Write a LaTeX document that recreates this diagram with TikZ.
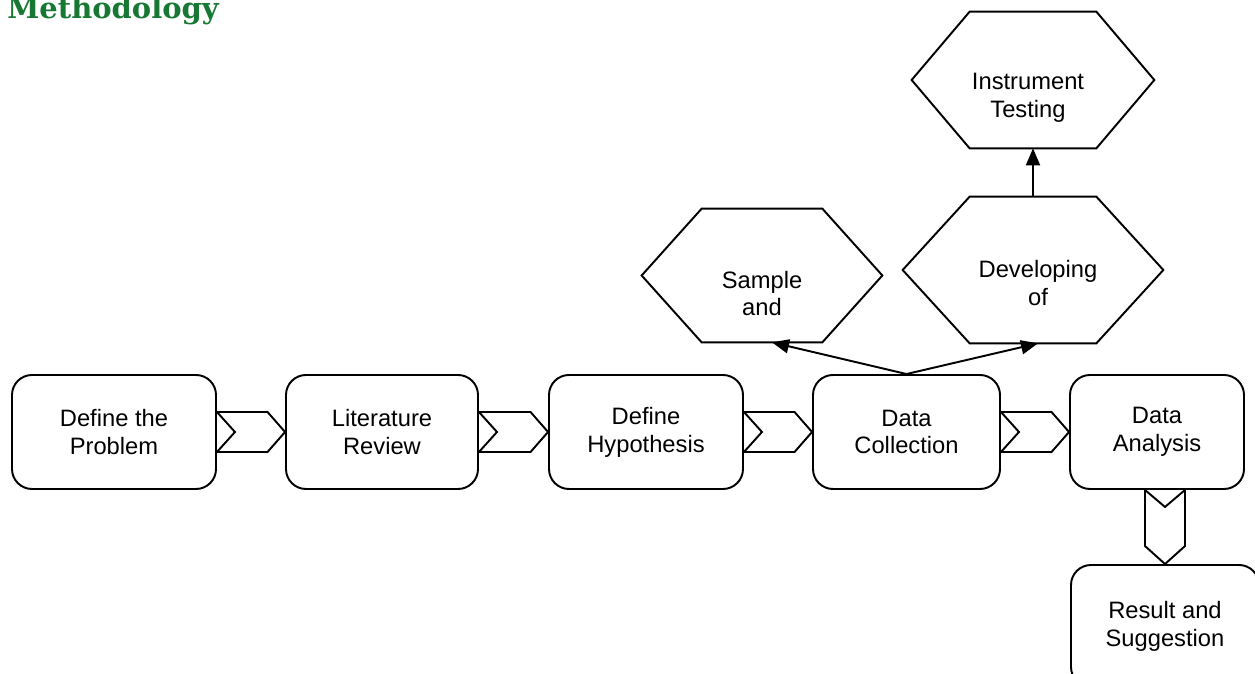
\documentclass[tikz,border=0pt]{standalone}
\usepackage{fontspec}
\setmainfont{Liberation Sans}
\newfontfamily\titlefont{DejaVu Serif}
\usetikzlibrary{arrows.meta,calc,positioning}
\definecolor{titlegreen}{RGB}{22,120,50}

\begin{document}
\begin{tikzpicture}[
    >={Triangle[length=0.34cm,width=0.28cm]},
    stage/.style={draw=black, line width=1.1pt, rounded corners=0.4cm,
      minimum height=2.28cm, align=center, font=\fontsize{13.5}{15.8}\selectfont},
    hexbox/.style={minimum width=#1, inner sep=0pt},
    hextext/.style={align=center, font=\fontsize{13.5}{15.8}\selectfont},
    hex/.style={draw=black, line width=1.1pt},
    chev/.style={draw=black, line width=1.1pt, line join=miter},
    link/.style={draw=black, line width=1.1pt, ->},
]
\useasboundingbox (0,0) rectangle (25.1,13.48);

% ---------------------------------------------------------
% Title
% ---------------------------------------------------------
\node[anchor=base west, inner sep=0pt, text=titlegreen,
  font=\titlefont\bfseries\fontsize{16.5}{20}\selectfont] (title) at (0.14,13.1)
  {Methodology};

% ---------------------------------------------------------
% Main process row
% ---------------------------------------------------------
\node[stage, minimum width=4.08cm] (define)   at (2.28,4.84)  {Define the\\Problem};
\node[stage, minimum width=3.84cm] (review)   at (7.64,4.84)  {Literature\\Review};
\node[stage, minimum width=3.88cm] (hypo)     at (12.92,4.84) {Define\\Hypothesis};
\node[stage, minimum width=3.74cm] (collect)  at (18.13,4.84) {Data\\Collection};
\node[stage, minimum width=3.48cm] (analysis) at (23.14,4.84) {Data\\Analysis};
\node[stage, minimum width=3.76cm, minimum height=2.44cm] (result) at (23.3,0.96)
  {Result and\\Suggestion};

\foreach \a/\b in {define/review, review/hypo, hypo/collect, collect/analysis}
  {\draw[chev] ($(\a.east)+(0,0.4)$) -- ($(\b.west)+(-0.35,0.4)$) -- (\b.west)
     -- ($(\b.west)+(-0.35,-0.4)$) -- ($(\a.east)+(0,-0.4)$)
     -- ($(\a.east)+(0.36,0)$) -- cycle;}

% downward chevron
\coordinate (dtop) at (result.north |- analysis.south);
\draw[chev] ($(dtop)+(-0.4,0)$) -- ($(result.north)+(-0.4,0.36)$) -- (result.north)
  -- ($(result.north)+(0.4,0.36)$) -- ($(dtop)+(0.4,0)$)
  -- ($(dtop)+(0,-0.34)$) -- cycle;

% ---------------------------------------------------------
% Data collection branches
% ---------------------------------------------------------
\node[hexbox=4.8cm, minimum height=2.66cm]  (sample)  at (15.24,7.97) {};
\node[hexbox=5.2cm, minimum height=2.92cm]  (develop) at (20.66,8.08) {};
\node[hexbox=4.84cm, minimum height=2.72cm] (instr)   at (20.66,11.88) {};

\foreach \n/\c in {sample/1.2, develop/1.34, instr/1.16}
  {\draw[hex] (\n.west) -- ($(\n.north west)+(\c,0)$) -- ($(\n.north east)+(-\c,0)$)
     -- (\n.east) -- ($(\n.south east)+(-\c,0)$) -- ($(\n.south west)+(\c,0)$) -- cycle;}

\node[hextext] (sampletxt)  at ($(sample)+(0,-0.36)$)      {Sample\\and};
\node[hextext] (developtxt) at ($(develop)+(0.1,-0.26)$)   {Developing\\of};
\node[hextext] (instrtxt)   at ($(instr)+(-0.1,-0.36)$)    {Instrument\\Testing};

\draw[link] (collect.north) -- ($(sample.south)+(0.2,0)$);
\draw[link] (collect.north) -- ($(develop.south)+(0.1,0)$);
\draw[link] (develop.north) -- (instr.south);

\end{tikzpicture}
\end{document}
